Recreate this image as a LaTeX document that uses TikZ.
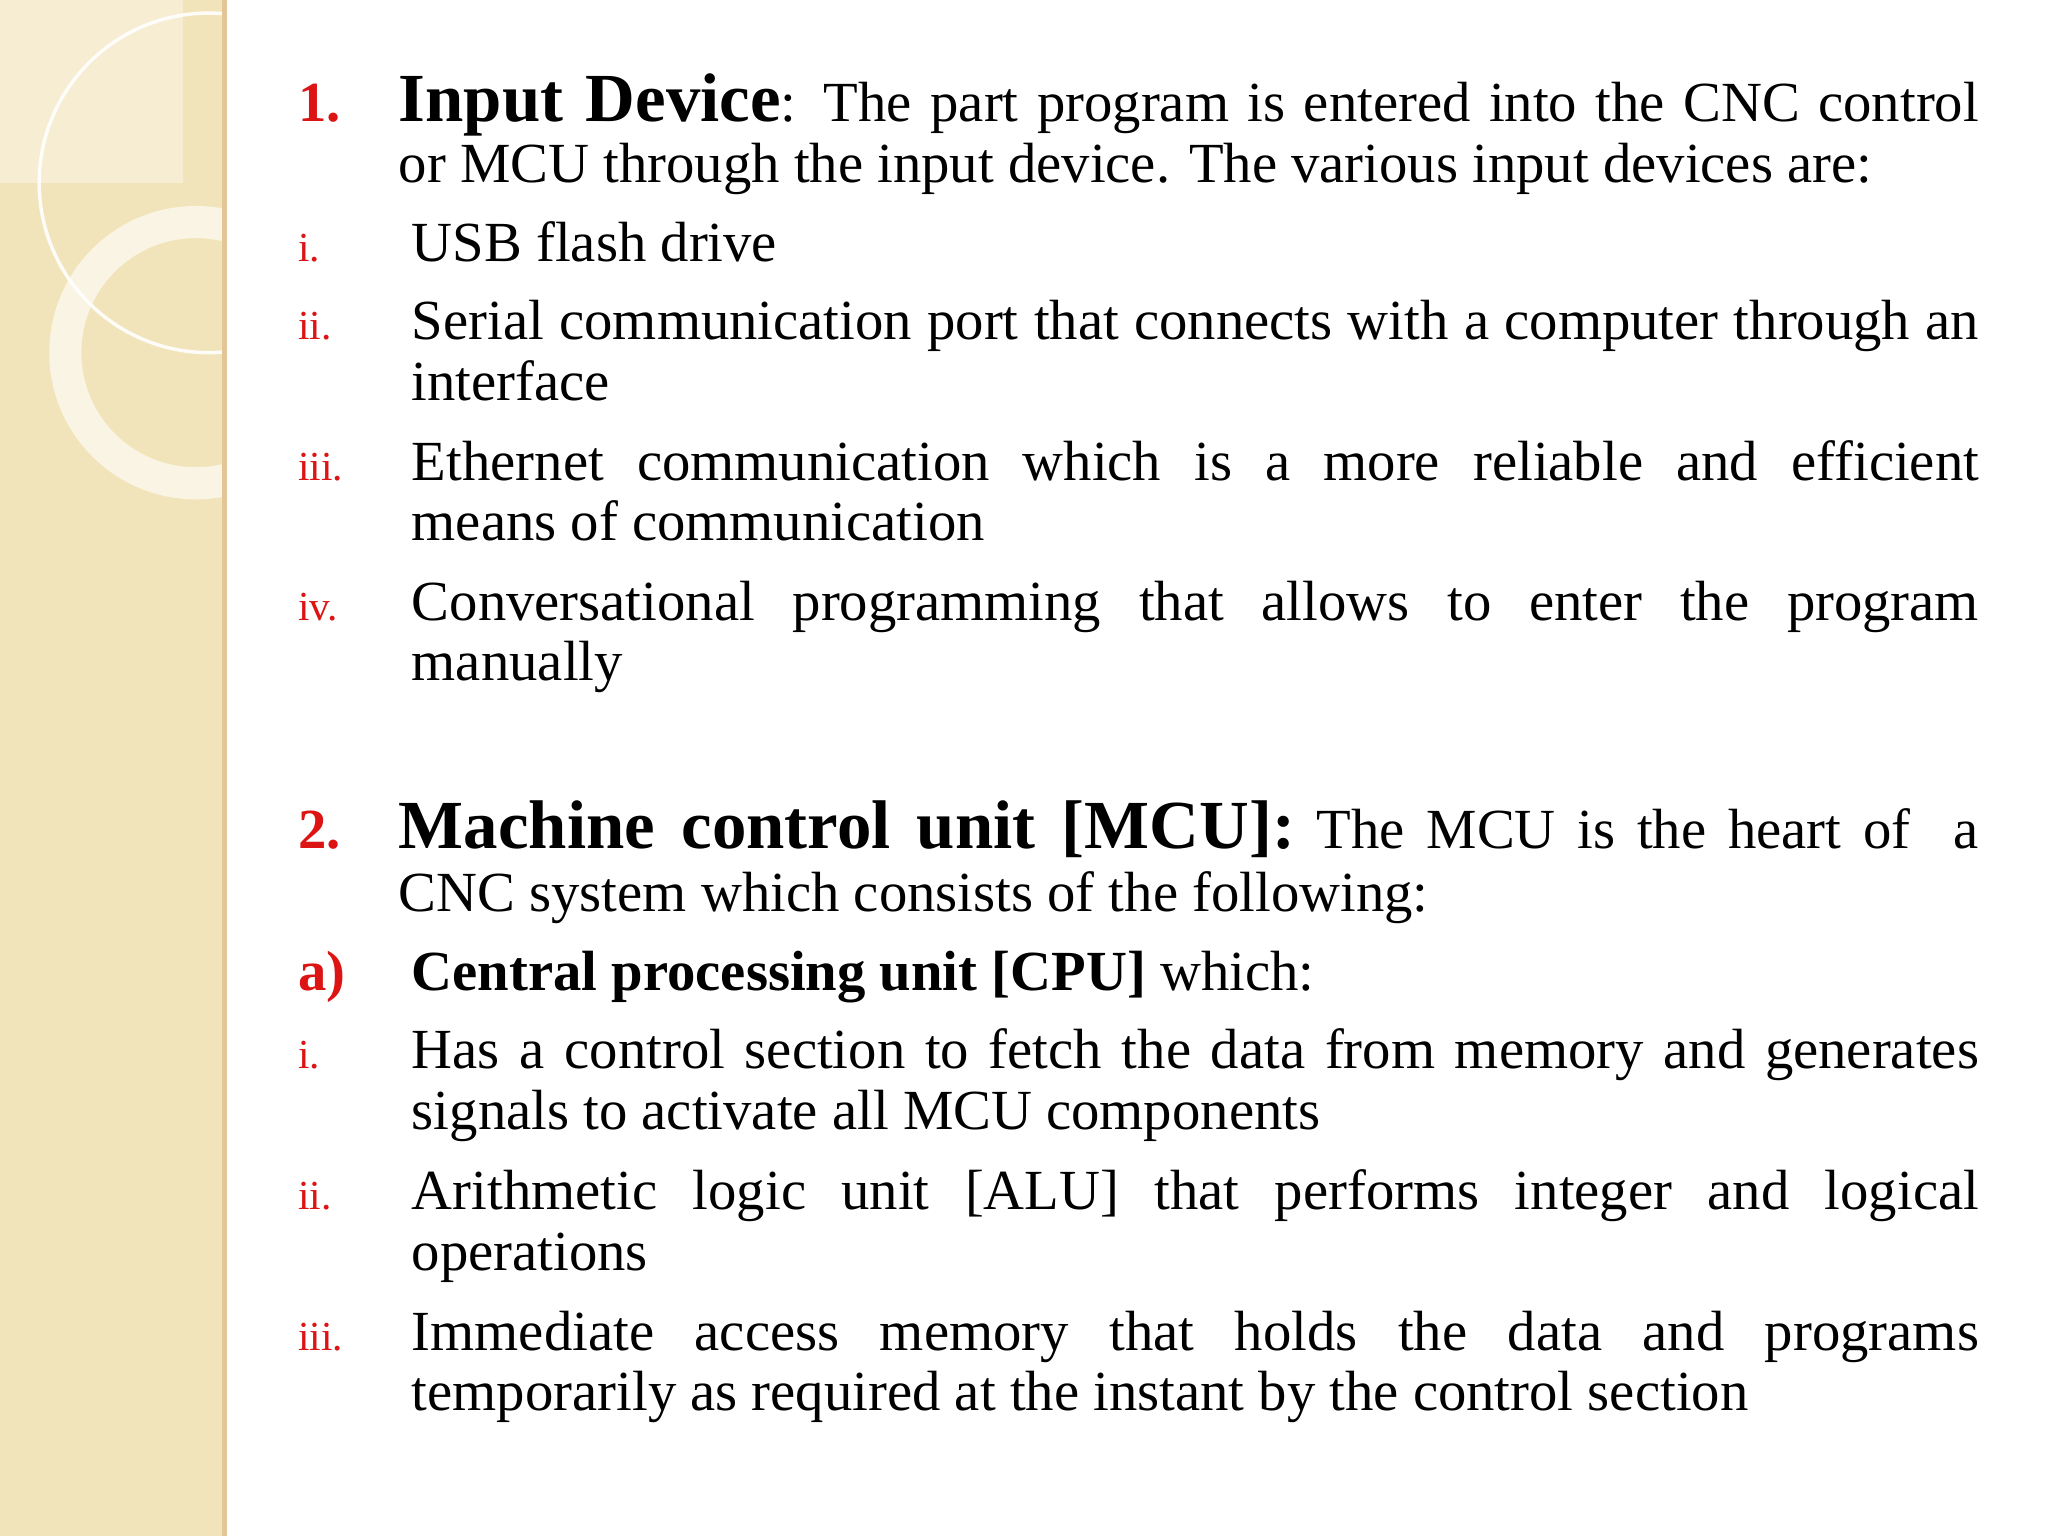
\documentclass[tikz,border=0pt]{standalone}
\usepackage{fontspec}
\setmainfont{Liberation Serif}
\definecolor{beige}{RGB}{242,228,186}
\definecolor{redn}{RGB}{220,20,20}
\newcommand{\bodyf}{\fontsize{24.7}{29}\selectfont}
\newcommand{\headf}{\fontsize{30}{34}\selectfont}
\newcommand{\romf}{\fontsize{18}{22}\selectfont}
\tikzset{
  ln/.style={anchor=base west,inner sep=0pt,font=\bodyf},
  jl/.style={ln,text width=24.2cm,align=justify},
  jl2/.style={ln,text width=24cm,align=justify},
  num/.style={anchor=base west,inner sep=0pt,text=redn,font=\bodyf\bfseries},
  rom/.style={anchor=base west,inner sep=0pt,text=redn,font=\romf},
}
\begin{document}
\begin{tikzpicture}[x=0.02cm,y=-0.02cm]
\useasboundingbox (0,0) rectangle (1568,1176);
\fill[white] (0,0) rectangle (1568,1176);
\begin{scope}
\clip (0,0) rectangle (172,1176);
\fill[beige] (0,0) rectangle (172,1176);
\fill[white,opacity=0.35] (0,0) rectangle (140,140);
\draw[white,line width=1.5pt,opacity=0.9] (160,140) circle (130);
\draw[white,line width=14pt,opacity=0.6] (150,270) circle (100);
\end{scope}
\fill[beige!70!brown] (170,0) rectangle (174,1176);

\node[num] (n1) at (228,93) {1.};
\node[jl] (l1) at (305,93) {{\parfillskip=0pt {\headf\bfseries Input Device}: The part program is entered into the CNC control\par}};
\node[ln] (l2) at (305,140) {or MCU through the input device. The various input devices are:};
\node[rom] (r1) at (228,200) {i.};
\node[ln] (a1) at (315,200) {USB flash drive};
\node[rom] (r2) at (228,260) {ii.};
\node[jl2] (a2) at (315,260) {{\parfillskip=0pt Serial communication port that connects with a computer through an\par}};
\node[ln] (a2b) at (315,307) {interface};
\node[rom] (r3) at (228,368) {iii.};
\node[jl2] (a3) at (315,368) {{\parfillskip=0pt Ethernet communication which is a more reliable and efficient\par}};
\node[ln] (a3b) at (315,414) {means of communication};
\node[rom] (r4) at (228,475) {iv.};
\node[jl2] (a4) at (315,475) {{\parfillskip=0pt Conversational programming that allows to enter the program\par}};
\node[ln] (a4b) at (315,521) {manually};

\node[num] (n2) at (228,650) {2.};
\node[jl] (m1) at (305,650) {{\parfillskip=0pt {\headf\bfseries Machine control unit [MCU]:} The MCU is the heart of~ a\par}};
\node[ln] (m2) at (305,698) {CNC system which consists of the following:};
\node[num] (na) at (228,758) {a)};
\node[ln] (b1) at (315,758) {\textbf{Central processing unit [CPU]} which:};
\node[rom] (s1) at (228,818) {i.};
\node[jl2] (c1) at (315,818) {{\parfillskip=0pt Has a control section to fetch the data from memory and generates\par}};
\node[ln] (c1b) at (315,865) {signals to activate all MCU components};
\node[rom] (s2) at (228,926) {ii.};
\node[jl2] (c2) at (315,926) {{\parfillskip=0pt Arithmetic logic unit [ALU] that performs integer and logical\par}};
\node[ln] (c2b) at (315,973) {operations};
\node[rom] (s3) at (228,1034) {iii.};
\node[jl2] (c3) at (315,1034) {{\parfillskip=0pt Immediate access memory that holds the data and programs\par}};
\node[ln] (c3b) at (315,1080) {temporarily as required at the instant by the control section};
\end{tikzpicture}
\end{document}
